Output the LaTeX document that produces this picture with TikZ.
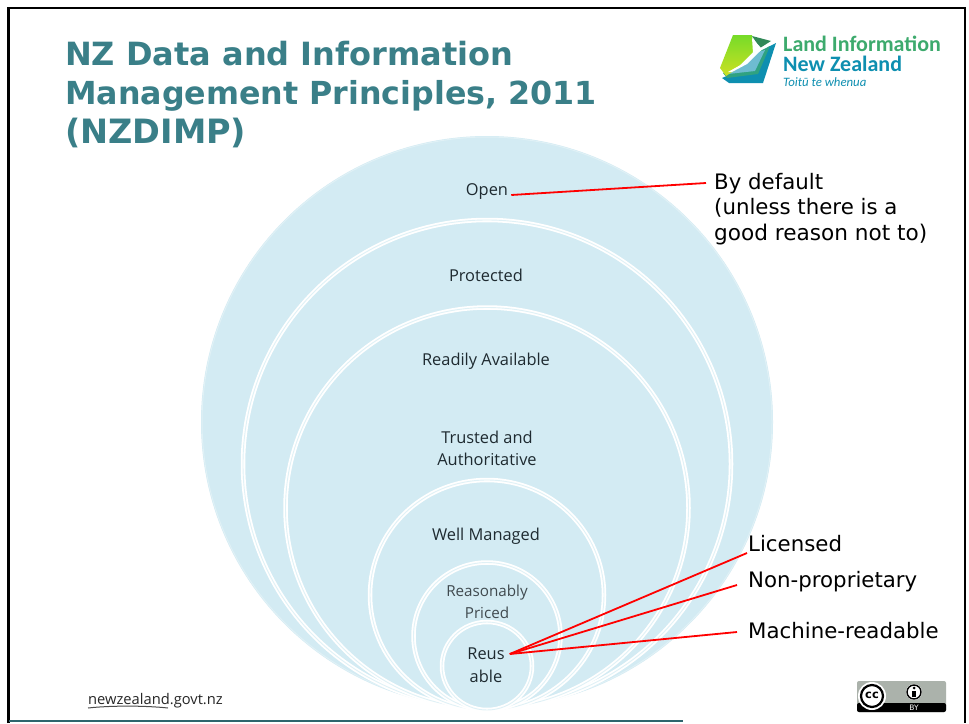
\documentclass[tikz,border=0pt]{standalone}
\usepackage{fontspec}
\setmainfont{DejaVu Sans}
\newfontfamily\lblfont{Open Sans}
\newfontfamily\logofont{Carlito}
\definecolor{titleteal}{HTML}{3A7F88}
\definecolor{bubble}{HTML}{D3EBF3}
\definecolor{ringpale}{HTML}{E0F1F6}
\definecolor{lblink}{HTML}{1E2A30}
\definecolor{logogreen}{HTML}{3DAA6D}
\definecolor{logoblue}{HTML}{0E8FB0}
\definecolor{logolime}{HTML}{A9CC3A}
\definecolor{ccgrey}{HTML}{ABB2AB}
\tikzset{
  x=1pt,y=-1pt,
  titletext/.style={anchor=base west,inner sep=0pt,text=titleteal,font=\fontsize{32}{36}\selectfont\bfseries},
  note/.style={anchor=base west,inner sep=0pt,font=\fontsize{21.3}{24}\selectfont},
  bubbletext/.style={inner sep=1pt,text=lblink,font=\lblfont\fontsize{16.4}{18}\selectfont},
  leader/.style={draw=red,line width=1.8pt},
  ring/.style={draw=white,line width=4.5pt,fill=bubble},
  ringline/.style={draw=ringpale,line width=0.9pt},
}
\begin{document}
\begin{tikzpicture}
\useasboundingbox (0,0) rectangle (969,723);
\fill[white] (0,0) rectangle (969,723);
% title
\node[titletext] (t1) at (65,65) {NZ Data and Information};
\node[titletext,font=\fontsize{31.7}{36}\selectfont\bfseries] (t2) at (65,104) {Management Principles, 2011};
\node[titletext,font=\fontsize{33.5}{36}\selectfont\bfseries] (t3) at (65,143) {(NZDIMP)};
% bubbles
\fill[bubble] (487,422) circle (286);
\draw[ringpale,line width=1pt] (487,422) circle (285);
\fill[white] (200,723) -- (200,690) .. controls (330,700) and (430,712) .. (487,709) .. controls (545,712) and (650,700) .. (780,690) -- (780,723) -- cycle;
\foreach \cy/\rx/\ry in {464/244/244,508/201.5/200.5,595/117/115,636/73.5/73.5,666/45/44}{
  \draw[ring] (487,\cy) ellipse ({\rx} and {\ry});
  \draw[ringline] (487,\cy) ellipse ({\rx} and {\ry});
}
% frame
\draw[black,line width=2.4pt] (8.5,723) -- (8.5,8) -- (965,8) -- (965,723);
\draw[titleteal!80!black,line width=2pt] (9,721) -- (683,721);
% bubble labels
\node[bubbletext] (open) at (487,191.5) {Open};
\node[bubbletext] (prot) at (486,275) {Protected};
\node[bubbletext] (read) at (486,361.5) {Readily Available};
\node[bubbletext] (trust) at (487,437) {Trusted and};
\node[bubbletext] (auth) at (487,459) {Authoritative};
\node[bubbletext] (well) at (486,536) {Well Managed};
\node[bubbletext,font=\lblfont\fontsize{15.2}{18}\selectfont,text=lblink!85] (reas) at (487,593) {Reasonably};
\node[bubbletext,font=\lblfont\fontsize{15.2}{18}\selectfont,text=lblink!85] (pric) at (487,613) {Priced};
\node[bubbletext] (reus) at (486,654) {Reus};
\node[bubbletext] (able) at (486,676) {able};
% notes
\node[note] (n1) at (714,189) {By default};
\node[note] (n2) at (714,214.5) {(unless there is a};
\node[note,font=\fontsize{21.6}{24}\selectfont] (n3) at (714,240) {good reason not to)};
\node[note] (lic) at (748,551) {Licensed};
\node[note] (nonp) at (748,587) {Non-proprietary};
\node[note] (mach) at (748,638) {Machine-readable};
% leaders
\coordinate (openend) at (706,183);
\coordinate (licend) at (747,553);
\coordinate (nonend) at (737,585);
\coordinate (machend) at (737,632);
\draw[leader] ([xshift=2pt,yshift=-3.5pt]open.east) -- (openend);
\draw[leader] ([xshift=4pt]reus.east) -- (licend);
\draw[leader] ([xshift=4pt]reus.east) -- (nonend);
\draw[leader] ([xshift=4pt]reus.east) -- (machend);
% logo
\fill[logoblue] (776,43) -- (763,83) -- (729,83) -- (722,78) -- (750,66) -- (768,47) -- cycle;
\fill[logogreen!70!logoblue] (770,46) -- (758,74) -- (727,78) -- (723,73) -- (745,64) -- (762,50) -- cycle;
\fill[logoblue!60!white] (765,50) -- (755,71) -- (728,74) -- (725,72) -- (746,63) -- (758,52) -- cycle;
\shade[top color=logolime!70!green,bottom color=logolime!60!yellow] (720,68) -- (733,35) -- (752,35) -- (754,51) -- (744,61) -- (735,70) -- (726,76) -- cycle;
\fill[logogreen!80!black] (752,36) -- (771,41) -- (760,48) -- cycle;
\fill[white] (728,72) -- (744,63) -- (753,53) -- (752,38) -- (762,49) -- (756,55) -- (747,64) -- (732,72) -- cycle;
\node[anchor=base west,inner sep=0pt,text=logogreen,font=\logofont\bfseries\fontsize{22}{24}\selectfont] (logoa) at (783,51) {Land Information};
\node[anchor=base west,inner sep=0pt,text=logoblue,font=\logofont\bfseries\fontsize{22}{24}\selectfont] (logob) at (783,71.5) {New Zealand};
\node[anchor=base west,inner sep=0pt,text=logoblue,font=\logofont\itshape\fontsize{12.8}{14}\selectfont] (logoc) at (783,86) {Toitū te whenua};
% footer mark
\node[anchor=base west,inner sep=0pt,text=black!85,font=\lblfont\fontsize{14.7}{18}\selectfont] (nzgovt) at (88,704) {newzealand.govt.nz};
\draw[black!70,line width=1pt] (88,708) .. controls (110,705.5) and (145,705.5) .. (168,708);
% cc badge
\fill[ccgrey,rounded corners=2pt] (857,681) rectangle (946,712);
\fill[black,rounded corners=2pt] (857,703) rectangle (946,712);
\fill[white] (872,696) circle (14);
\draw[black,line width=2.2pt] (872,696) circle (11);
\node[inner sep=0pt,font=\bfseries\fontsize{11.5}{12}\selectfont] (cc) at (872,695.5) {cc};
\fill[white] (914,692) circle (8);
\draw[black,line width=1.4pt] (914,692) circle (7);
\fill[black] (914,688) circle (1.5);
\fill[black] (912,690.5) rectangle (916,697);
\node[inner sep=0pt,text=white,font=\fontsize{7.5}{8}\selectfont] (by) at (914,707.5) {BY};
\end{tikzpicture}
\end{document}
